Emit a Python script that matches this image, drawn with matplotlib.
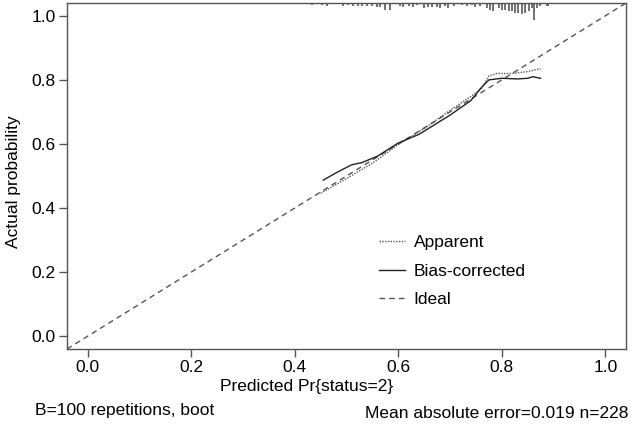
import matplotlib
matplotlib.use("Agg")
import matplotlib.pyplot as plt
import numpy as np

plt.rcParams['font.family'] = ['Liberation Sans', 'DejaVu Sans']

# calibration curves
app_x = [0.45, 0.50, 0.55, 0.60, 0.65, 0.70, 0.74, 0.76, 0.775, 0.79, 0.82, 0.85, 0.875]
app_y = [0.446, 0.492, 0.540, 0.598, 0.648, 0.705, 0.748, 0.772, 0.812, 0.820, 0.820, 0.826, 0.835]
bc_x = [0.455, 0.48, 0.51, 0.53, 0.56, 0.60, 0.64, 0.67, 0.70, 0.74, 0.76, 0.775, 0.80, 0.83, 0.85, 0.86, 0.875]
bc_y = [0.487, 0.510, 0.535, 0.542, 0.562, 0.603, 0.630, 0.660, 0.690, 0.735, 0.775, 0.800, 0.805, 0.803, 0.805, 0.810, 0.805]

# rug of predicted values (top), with relative frequency
rug_x = [0.433, 0.452, 0.462, 0.494, 0.503, 0.513, 0.523, 0.529, 0.539, 0.549,
         0.558, 0.565, 0.574, 0.584, 0.603, 0.610, 0.620, 0.629, 0.636, 0.649,
         0.658, 0.665, 0.674, 0.681, 0.691, 0.697, 0.707, 0.723, 0.732, 0.742,
         0.749, 0.758, 0.771, 0.778, 0.784, 0.794, 0.800, 0.807, 0.813, 0.819,
         0.826, 0.832, 0.839, 0.845, 0.852, 0.858, 0.863, 0.869, 0.874, 0.887, 0.890]
rug_n = [2, 2, 3, 3, 2, 3, 3, 3, 3, 3,
         4, 4, 7, 7, 3, 4, 3, 4, 2, 5,
         4, 4, 4, 5, 3, 5, 3, 2, 3, 2,
         4, 3, 5, 7, 8, 5, 7, 7, 8, 8,
         10, 10, 11, 10, 8, 5, 17, 5, 3, 3, 3]

ticks = [0.0, 0.2, 0.4, 0.6, 0.8, 1.0]
fs = 12.5

fig = plt.figure(figsize=(6.34, 4.32), dpi=100)
ax = fig.add_axes([67/634, 1 - 349/432, 559/634, 346/432])
ax.set_xlim(-0.04, 1.04)
ax.set_ylim(-0.04, 1.04)

l3, = ax.plot([-0.04, 1.04], [-0.04, 1.04], color='#555555', lw=1, ls=(0, (4, 3)), zorder=1)
l1, = ax.plot(app_x, app_y, color='#555555', lw=1, ls=(0, (1, 1)))
l2, = ax.plot(bc_x, bc_y, color='#222222', lw=1)

top = 1.04
ax.vlines(rug_x, top - np.array(rug_n) / 321.0, top, color='#666666', lw=1.3)

ax.set_xticks(ticks)
ax.set_yticks(ticks)
ax.set_xticklabels(['%.1f' % t for t in ticks])
ax.set_yticklabels(['%.1f' % t for t in ticks])
ax.tick_params(direction='out', length=6, width=1, color='#555555', labelsize=fs, pad=2)
for s in ax.spines.values():
    s.set_color('#555555')
    s.set_linewidth(1)

ax.legend([l1, l2, l3], ['Apparent', 'Bias-corrected', 'Ideal'], loc='upper left',
          bbox_to_anchor=(0.53, 0.375), frameon=False, fontsize=fs,
          handlelength=1.5, handletextpad=0.5, labelspacing=0.78)

fig.text(307/634, 1 - 387/432, 'Predicted Pr{status=2}', ha='center', va='center', fontsize=fs)
fig.text(14/634, 1 - 182/432, 'Actual probability', ha='center', va='center', rotation=90, fontsize=fs)
fig.text(35/634, 1 - 411/432, 'B=100 repetitions, boot', ha='left', va='center', fontsize=fs)
fig.text(628/634, 1 - 413/432, 'Mean absolute error=0.019 n=228', ha='right', va='center', fontsize=fs)

fig.savefig('out.png', dpi=100)
